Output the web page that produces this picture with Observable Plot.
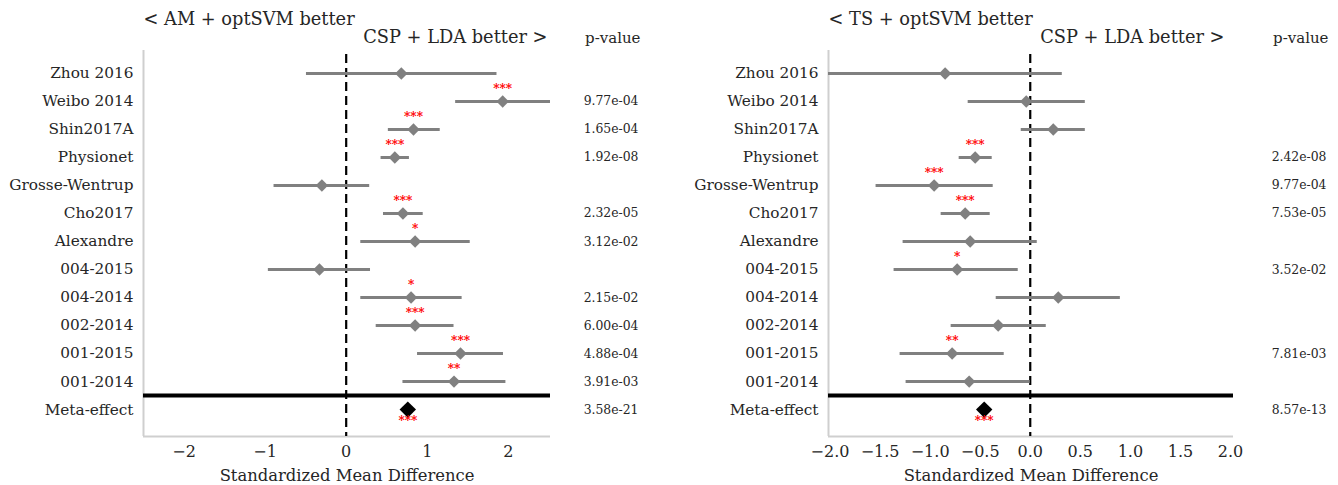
<!DOCTYPE html>
<html><head><meta charset="utf-8">
<script src="https://cdn.jsdelivr.net/npm/d3@7"></script>
<script src="https://cdn.jsdelivr.net/npm/@observablehq/plot@0.6"></script>
<style>
body{margin:0;background:#fff;}
#wrap{display:flex;width:1338px;height:485px;}
#wrap svg{font-family:"DejaVu Serif",serif;overflow:visible;}
</style></head><body><div id="wrap"></div>
<script>
// ---- data ----
const datasets = ["Zhou 2016","Weibo 2014","Shin2017A","Physionet","Grosse-Wentrup","Cho2017","Alexandre","004-2015","004-2014","002-2014","001-2015","001-2014"];
const metaLabel = "Meta-effect";

// Left: AM + optSVM vs CSP + LDA
const amSmd   = [0.68, 1.93, 0.83, 0.60, -0.30, 0.70, 0.85, -0.33, 0.80, 0.85, 1.41, 1.33];
const amLo    = [-0.49, 1.35, 0.52, 0.43, -0.89, 0.46, 0.18, -0.96, 0.18, 0.37, 0.88, 0.70];
const amHi    = [1.86, 2.52, 1.16, 0.78, 0.29, 0.95, 1.53, 0.30, 1.43, 1.33, 1.94, 1.97];
const amStars = ["", "***", "***", "***", "", "***", "*", "", "*", "***", "***", "**"];
const amP     = ["", "9.77e-04", "1.65e-04", "1.92e-08", "", "2.32e-05", "3.12e-02", "", "2.15e-02", "6.00e-04", "4.88e-04", "3.91e-03"];
const amMeta = 0.76, amMetaStars = "***", amMetaP = "3.58e-21";

// Right: TS + optSVM vs CSP + LDA
const tsSmd   = [-0.85, -0.04, 0.23, -0.55, -0.96, -0.65, -0.60, -0.73, 0.28, -0.32, -0.78, -0.61];
const tsLo    = [-2.05, -0.62, -0.09, -0.71, -1.54, -0.89, -1.27, -1.36, -0.34, -0.79, -1.30, -1.24];
const tsHi    = [0.32, 0.55, 0.55, -0.38, -0.37, -0.40, 0.07, -0.12, 0.90, 0.16, -0.26, 0.00];
const tsStars = ["", "", "", "***", "***", "***", "", "*", "", "", "**", ""];
const tsP     = ["", "", "", "2.42e-08", "9.77e-04", "7.53e-05", "", "3.52e-02", "", "", "7.81e-03", ""];
const tsMeta = -0.46, tsMetaStars = "***", tsMetaP = "8.57e-13";

const amTicks = [-2, -1, 0, 1, 2];
const tsTicks = [-2.0, -1.5, -1.0, -0.5, 0.0, 0.5, 1.0, 1.5, 2.0];

// ---- drawing ----
const rowLabels = [...datasets, metaLabel];
const yDomain = [12.96, -0.82];
const ink = "#262626";

function panel({smd, lo, hi, stars, pv, meta, metaStars, metaP, leftTitle, xDomain, ticks, fmt, marginLeft, marginRight, pDx, headDx}) {
  const rows = datasets.map((name, i) => ({i, name, smd: smd[i], lo: lo[i], hi: hi[i], stars: stars[i], p: pv[i]}));
  const metaRow = [{i: 12, smd: meta, stars: metaStars, p: metaP}];
  const width = 669, height = 485;
  return Plot.plot({
    width, height,
    marginTop: 50, marginBottom: 49, marginLeft, marginRight,
    style: {fontFamily: "DejaVu Serif", color: ink, background: "white"},
    x: {domain: xDomain},
    y: {type: "linear", domain: yDomain},
    marks: [
      // spines
      Plot.ruleX([xDomain[0]], {stroke: "#cfcfcf", strokeWidth: 2}),
      Plot.ruleY([yDomain[0]], {stroke: "#cfcfcf", strokeWidth: 2}),
      // zero line
      Plot.ruleX([0], {stroke: "black", strokeWidth: 2.2, strokeDasharray: "9,5", strokeDashoffset: -4}),
      // separator
      Plot.ruleY([11.5], {stroke: "black", strokeWidth: 4}),
      // CIs
      Plot.ruleY(rows, {y: "i", x1: "lo", x2: "hi", stroke: "#808080", strokeWidth: 3, clip: true}),
      Plot.dot(rows, {x: "smd", y: "i", symbol: "diamond2", r: 5.6, fill: "#808080", stroke: "none"}),
      Plot.dot(metaRow, {x: "smd", y: "i", symbol: "diamond2", r: 7.4, fill: "black", stroke: "none"}),
      // stars
      Plot.text(rows.filter(d => d.stars), {x: "smd", y: "i", text: "stars", dy: -12, fill: "red", fontSize: 12, fontWeight: "bold"}),
      Plot.text(metaRow, {x: "smd", y: "i", text: "stars", dy: 12, fill: "red", fontSize: 12, fontWeight: "bold"}),
      // p-values
      Plot.text([...rows, ...metaRow].filter(d => d.p), {y: "i", text: "p", frameAnchor: "right", textAnchor: "end", dx: pDx, fontSize: 12.4, fill: ink}),
      // headers
      Plot.text([leftTitle], {frameAnchor: "top-left", textAnchor: "start", dy: -38, fontSize: 17.8, fill: ink}),
      Plot.text(["CSP + LDA better >"], {frameAnchor: "top-right", textAnchor: "end", dx: headDx, dy: -20, fontSize: 17.8, fill: ink}),
      Plot.text(["p-value"], {frameAnchor: "top-right", textAnchor: "end", dx: pDx + 2, dy: -18, fontSize: 15, fill: ink}),
      Plot.text(["Standardized Mean Difference"], {frameAnchor: "bottom", dy: 44, fontSize: 16.4, fill: ink}),
      // axes
      Plot.axisX({ticks, tickFormat: fmt, tickSize: 0, tickPadding: 9, fontSize: 16, label: null}),
      Plot.axisY({ticks: d3.range(13), tickFormat: i => rowLabels[i], tickSize: 0, tickPadding: 10, fontSize: 15.3, label: null})
    ]
  });
}

const wrap = document.getElementById("wrap");
wrap.append(panel({
  smd: amSmd, lo: amLo, hi: amHi, stars: amStars, pv: amP,
  meta: amMeta, metaStars: amMetaStars, metaP: amMetaP,
  leftTitle: "< AM + optSVM better",
  xDomain: [-2.5, 2.52], ticks: amTicks, fmt: d3.format(".0f"),
  marginLeft: 143, marginRight: 119, pDx: 88, headDx: -3
}));
wrap.append(panel({
  smd: tsSmd, lo: tsLo, hi: tsHi, stars: tsStars, pv: tsP,
  meta: tsMeta, metaStars: tsMetaStars, metaP: tsMetaP,
  leftTitle: "< TS + optSVM better",
  xDomain: [-2.015, 2.03], ticks: tsTicks, fmt: d3.format(".1f"),
  marginLeft: 159, marginRight: 105, pDx: 93, headDx: -9
}));
</script></body></html>
